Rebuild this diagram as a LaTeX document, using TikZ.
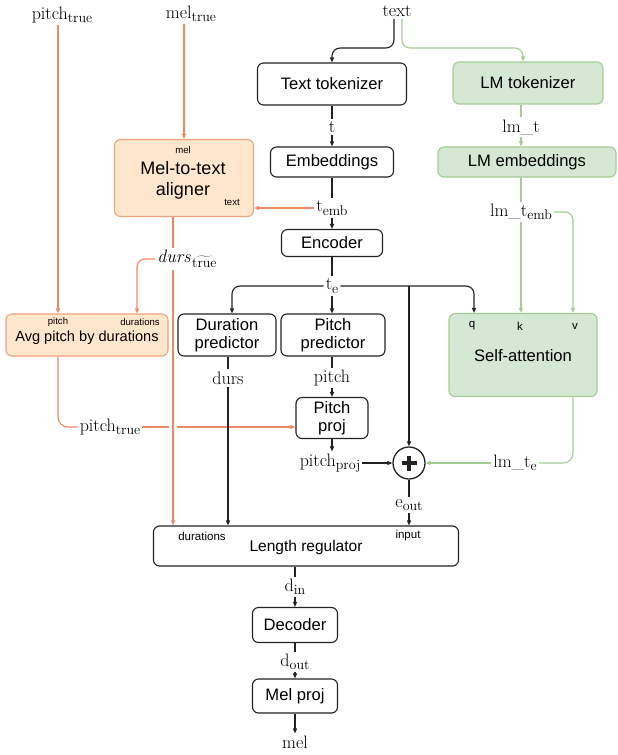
\documentclass[tikz,border=0pt]{standalone}
\usepackage{fontspec}
\setsansfont{Liberation Sans}
\usetikzlibrary{arrows.meta,backgrounds}
\definecolor{orl}{HTML}{EE8A63}
\definecolor{orf}{HTML}{FFE6CC}
\definecolor{ord}{HTML}{F0A27A}
\definecolor{grf}{HTML}{D5E8D4}
\definecolor{grd}{HTML}{A4CB94}
\definecolor{blk}{HTML}{222222}
\newcommand{\sbs}[1]{\raisebox{-3.4pt}{\fontsize{14}{16}\selectfont #1}}
\begin{document}
\begin{tikzpicture}[x=1pt,y=-1pt,
  box/.style={draw=blk, line width=1.1pt, rounded corners=6pt, inner sep=0pt, align=center, fill=white, font=\sffamily\fontsize{16.6}{18.5}\selectfont},
  obox/.style={box, draw=ord, fill=orf},
  gbox/.style={box, draw=grd, fill=grf},
  lbl/.style={fill=white, inner sep=2pt, font=\fontsize{18}{20}\selectfont},
  sm/.style={inner sep=0pt, font=\sffamily\fontsize{9.6}{11}\selectfont},
  smb/.style={inner sep=0pt, font=\sffamily\fontsize{11.5}{13}\selectfont},
  bl/.style={draw=blk, line width=1.1pt},
  ba/.style={bl, -{Triangle[length=5pt,width=4pt]}},
  ol/.style={draw=orl, line width=1.1pt},
  oa/.style={ol, -{Triangle[length=5pt,width=4pt]}},
  gl/.style={draw=grd, line width=1.1pt},
  ga/.style={gl, -{Triangle[length=5pt,width=4pt]}},
]
\useasboundingbox (0,0) rectangle (618,755);
\coordinate (bend1) at (0,48);
% boxes
\node[box, minimum width=149pt, minimum height=42pt] (ttok) at (332,84) {Text tokenizer};
\node[gbox, minimum width=150pt, minimum height=42pt] (lmtok) at (528,83) {LM tokenizer};
\node[box, minimum width=123pt, minimum height=30pt] (emb) at (332,162) {Embeddings};
\node[gbox, minimum width=178pt, minimum height=30pt] (lmemb) at (527,162) {LM embeddings};
\node[obox, minimum width=139pt, minimum height=77pt] (alg) at (184,178) {};
\node[align=center, inner sep=0pt, font=\sffamily\fontsize{18}{20.7}\selectfont] (algt) at (183,180) {Mel-to-text\\aligner};
\node[sm] (algmel) at (183,150) {mel};
\node[sm] (algtext) at (232,202) {text};
\node[box, minimum width=101pt, minimum height=27pt] (enc) at (332,243) {Encoder};
\node[box, minimum width=98pt, minimum height=42pt] (dur) at (227,335) {Duration\\predictor};
\node[box, minimum width=104pt, minimum height=42pt] (pp) at (333,335) {Pitch\\predictor};
\node[gbox, minimum width=148pt, minimum height=83pt] (sa) at (523,355) {};
\node[inner sep=0pt, font=\sffamily\fontsize{16.6}{19}\selectfont] (sat) at (523,356) {Self-attention};
\node[smb] (saql) at (472,326) {q};
\node[smb] (sakl) at (520,326) {k};
\node[smb] (savl) at (575,326) {v};
\node[obox, minimum width=162pt, minimum height=42pt] (avg) at (87,335) {};
\node[inner sep=0pt, font=\sffamily\fontsize{14.6}{17}\selectfont] (avgt) at (87,338) {Avg pitch by durations};
\node[sm] (avgpl) at (58,322) {pitch};
\node[sm] (avgdl) at (140,322) {durations};
\node[box, minimum width=72pt, minimum height=41pt] (ppr) at (332,418) {Pitch\\proj};
\node[circle, draw=blk, line width=1.3pt, minimum size=32pt, inner sep=0pt, fill=white] (plus) at (409,463) {};
\draw[blk, line width=3.6pt] ([xshift=-7.5pt]plus.center) -- ([xshift=7.5pt]plus.center);
\draw[blk, line width=3.6pt] ([yshift=-7.5pt]plus.center) -- ([yshift=7.5pt]plus.center);
\node[box, minimum width=305pt, minimum height=40pt] (lr) at (306,546) {};
\node[inner sep=0pt, font=\sffamily\fontsize{15.5}{18}\selectfont] (lrt) at (306,547) {Length regulator};
\node[smb] (lrdl) at (202,536) {durations};
\node[smb] (lril) at (408,536) {input};
\node[box, minimum width=85pt, minimum height=35pt] (dec) at (295,625) {Decoder};
\node[box, minimum width=85pt, minimum height=34pt] (mp) at (295,696) {Mel proj};
% labels
\node[lbl] (ptrue) at (62,15) {pitch\sbs{true}};
\node[lbl] (meltrue) at (191,14) {mel\sbs{true}};
\node[lbl] (txt) at (397,11) {text};
\node[lbl] (tl) at (332,127) {t};
\node[lbl] (lmt) at (521,127) {lm\_t};
\node[lbl] (temb) at (332,208) {t\sbs{emb}};
\node[lbl] (lmtemb) at (521,212) {lm\_t\sbs{emb}};
\node[lbl] (te) at (332,286) {t\sbs{e}};
\node[lbl] (dtrue) at (187,259) {\textit{durs}\kern1.5pt\raisebox{-5pt}{\fontsize{14}{16}\selectfont$\widetilde{\hbox{true}}$}};
\node[lbl] (durs) at (228,378) {durs};
\node[lbl] (pitchl) at (332,378) {pitch};
\node[lbl] (ptrue2) at (110,427) {pitch\sbs{true}};
\node[lbl] (pproj) at (330,463) {pitch\sbs{proj}};
\node[lbl] (lmte) at (515,463) {lm\_t\sbs{e}};
\node[lbl] (eout) at (409,505) {e\sbs{out}};
\node[lbl] (din) at (295,587) {d\sbs{in}};
\node[lbl] (dout) at (295,662) {d\sbs{out}};
\node[lbl] (mel) at (295,742) {mel};
% anchor points
\coordinate (lmin) at ([xshift=-5pt]lmtok.north);
\coordinate (durin) at ([xshift=5pt]dur.north);
\coordinate (saq) at ([xshift=-49pt]sa.north);
\coordinate (sav) at ([xshift=50pt]sa.north);
\coordinate (algout) at ([xshift=-11pt]alg.south);
\coordinate (avgdur) at ([xshift=50pt]avg.north);
\coordinate (avgp) at ([xshift=-29pt]avg.north);
\begin{scope}[on background layer]
\draw[ba, rounded corners=8pt] ([xshift=-3pt]txt.south) |- (ttok.north |- bend1) -- (ttok.north);
\draw[ga, rounded corners=8pt] ([xshift=5pt]txt.south) |- (lmin |- bend1) -- (lmin);
\draw[bl] (ttok.south) -- (tl.north);
\draw[ba] (tl.south) -- (emb.north);
\draw[gl] (lmtok.south -| lmt) -- (lmt.north);
\draw[ga] (lmt.south) -- (lmt.south |- lmemb.north);
\draw[bl] (emb.south) -- (temb.north);
\draw[ba] (temb.south) -- (enc.north);
\draw[oa] (temb.west) -- (temb.west -| alg.east);
\draw[bl] (enc.south) -- (te.north);
\draw[ba] (te.south) -- (te.south |- pp.north);
\draw[ba, rounded corners=8pt] (te.west) -| (durin);
\draw[ba, rounded corners=8pt] (te.east) -| (saq);
\draw[ba] (te.east -| plus.north) -- (plus.north);
\draw[gl] (lmemb.south -| lmtemb) -- (lmtemb.north);
\draw[ga] (lmtemb.south) -- (lmtemb.south |- sa.north);
\draw[ga, rounded corners=8pt] (lmtemb.east) -| (sav);
\draw[oa] (meltrue.south -| alg.north) -- (alg.north);
\draw[oa] (ptrue.south -| avgp) -- (avgp);
\draw[oa, rounded corners=8pt] (dtrue.west) -| (avgdur);
\draw[ol, rounded corners=10pt] (avg.south -| avgp) |- (ptrue2.west);
\draw[oa] (ptrue2.east) -- (ptrue2.east -| ppr.west);
\draw[white, line width=8pt] (algout) -- (algout |- lr.north);
\draw[oa] (algout) -- (algout |- lr.north);
\draw[bl] (dur.south -| durs) -- (durs.north);
\draw[ba] (durs.south) -- (durs.south |- lr.north);
\draw[bl] (pp.south -| pitchl) -- (pitchl.north);
\draw[ba] (pitchl.south) -- (pitchl.south |- ppr.north);
\draw[ba] (ppr.south) -- (ppr.south |- pproj.north);
\draw[ba] (pproj.east) -- (plus.west);
\draw[gl, rounded corners=10pt] (sav |- sa.south) |- (lmte.east);
\draw[ga] (lmte.west) -- (plus.east);
\draw[bl] (plus.south) -- (eout.north);
\draw[ba] (eout.south) -- (eout.south |- lr.north);
\draw[bl] (lr.south -| din) -- (din.north);
\draw[ba] (din.south) -- (dec.north);
\draw[bl] (dec.south) -- (dout.north);
\draw[ba] (dout.south) -- (mp.north);
\draw[ba] (mp.south) -- (mel.north);
\end{scope}
\end{tikzpicture}
\end{document}
